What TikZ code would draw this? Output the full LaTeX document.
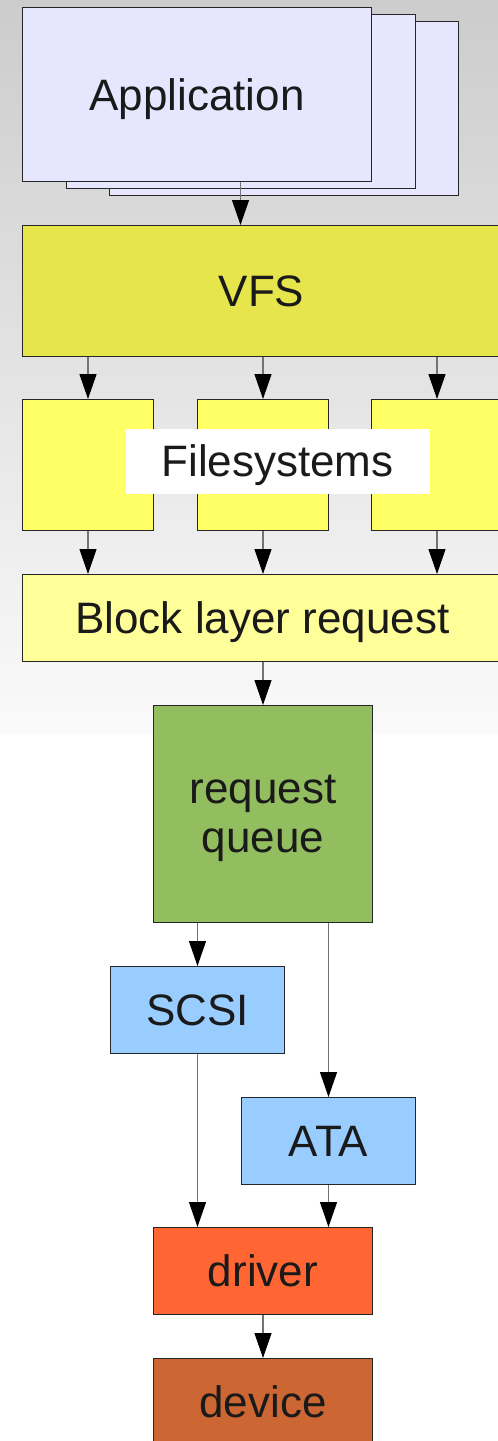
\documentclass[tikz,border=0pt]{standalone}
\usepackage{fontspec}
\setmainfont{Liberation Sans}
\usetikzlibrary{arrows.meta}
\definecolor{appcol}{HTML}{E6E6FF}
\definecolor{vfscol}{HTML}{E6E64C}
\definecolor{fscol}{HTML}{FFFF66}
\definecolor{blkcol}{HTML}{FFFF99}
\definecolor{queuecol}{HTML}{93BE5F}
\definecolor{buscol}{HTML}{99CCFF}
\definecolor{drvcol}{HTML}{FF6633}
\definecolor{devcol}{HTML}{CC6633}
\definecolor{inkcol}{HTML}{1A1A1A}
\newcommand\boxfont{\fontsize{44}{49}\selectfont}
\tikzset{
    blk/.style={rectangle, draw=black!85, line width=1pt, inner sep=0pt,
        anchor=north west, text=inkcol, font=\boxfont},
    oneline/.style={text height=31.5pt, text depth=0pt},
    conn/.style={draw=black!55, line width=1.2pt,
        -{Triangle[width=17pt,length=25pt,color=black,fill=black]}},
}

\begin{document}
\begin{tikzpicture}[x=1pt,y=-1pt]
\useasboundingbox (0,0) rectangle (498,1441);
\clip (0,0) rectangle (498,1441);
\shade[top color=black!20, bottom color=black!2] (0,0) rectangle (498,733);

\node[blk, fill=appcol, minimum width=349, minimum height=174] (app3) at (109,21) {};
\node[blk, fill=appcol, minimum width=349, minimum height=174] (app2) at (66,14) {};
\node[blk, oneline, fill=appcol, minimum width=349, minimum height=174] (app) at (22,7) {Application};

\node[blk, oneline, fill=vfscol, minimum width=478, minimum height=131] (vfs) at (22,225) {VFS};

\node[blk, fill=fscol, minimum width=131, minimum height=131] (fs1) at (22,399) {};
\node[blk, fill=fscol, minimum width=131, minimum height=131] (fs2) at (197,399) {};
\node[blk, fill=fscol, minimum width=131, minimum height=131] (fs3) at (371,399) {};
\node[blk, oneline, fill=white, draw=none, minimum width=304, minimum height=65] (fslabel) at (125,428) {Filesystems};

\node[blk, oneline, fill=blkcol, minimum width=480, minimum height=87] (block) at (22,574) {Block layer request};
\node[blk, fill=queuecol, minimum width=219, minimum height=217, align=center,
    text height=77pt, text depth=0pt] (queue) at (153,705) {request\\queue};
\node[blk, oneline, fill=buscol, minimum width=174, minimum height=87] (scsi) at (110,966) {SCSI};
\node[blk, oneline, fill=buscol, minimum width=174, minimum height=87] (ata) at (241,1097) {ATA};
\node[blk, oneline, fill=drvcol, minimum width=219, minimum height=87] (driver) at (153,1227) {driver};
\node[blk, oneline, fill=devcol, minimum width=219, minimum height=87] (device) at (153,1358) {device};

\draw[conn] ([xshift=43.5pt]app.south) -- ([xshift=43.5pt]app.south |- vfs.north);
\foreach \f in {fs1,fs2,fs3}{
    \draw[conn] (\f.north |- vfs.south) -- (\f.north);
    \draw[conn] (\f.south) -- (\f.south |- block.north);
}
\draw[conn] (queue.north |- block.south) -- (queue.north);
\draw[conn] (scsi.north |- queue.south) -- (scsi.north);
\draw[conn] (ata.north |- queue.south) -- (ata.north);
\draw[conn] (scsi.south) -- (scsi.south |- driver.north);
\draw[conn] (ata.south) -- (ata.south |- driver.north);
\draw[conn] (driver.south) -- (device.north);
\end{tikzpicture}
\end{document}
